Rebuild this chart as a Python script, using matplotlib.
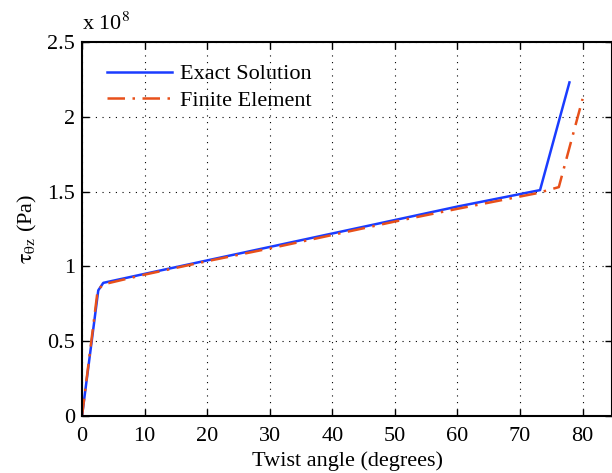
import matplotlib
matplotlib.use("Agg")
import matplotlib.pyplot as plt

plt.rcParams['font.family'] = ['Liberation Serif', 'DejaVu Serif']
plt.rcParams['mathtext.fontset'] = 'stix'

# Data (stress in units of 1e8 Pa)
exact_x = [0, 2.6, 3.4, 10, 20, 30, 40, 50, 60, 73.2, 77.9]
exact_y = [0, 0.84, 0.89, 0.95, 1.04, 1.13, 1.22, 1.31, 1.40, 1.51, 2.23]
fe_x = [0, 2.5, 3.4, 10, 20, 30, 40, 50, 60, 72.8, 76.2, 80.0]
fe_y = [0, 0.84, 0.88, 0.945, 1.035, 1.12, 1.21, 1.30, 1.385, 1.49, 1.53, 2.12]

xticks = [0, 10, 20, 30, 40, 50, 60, 70, 80]
yticks = [0, 0.5, 1, 1.5, 2, 2.5]
ytick_labels = ['0', '0.5', '1', '1.5', '2', '2.5']

fig = plt.figure(figsize=(6.12, 4.73), dpi=100)
ax = fig.add_axes([0.134, 0.1205, 0.866, 0.7907])

ax.plot(exact_x, exact_y, color='#1a3cff', lw=1.8, label='Exact Solution')
ax.plot(fe_x, fe_y, color='#e8501a', lw=1.8, ls=(0, (7, 3, 1, 3)), label='Finite Element')

ax.set_xlim(0, 84.7)
ax.set_ylim(0, 2.5)
ax.set_xticks(xticks)
ax.set_yticks(yticks)
ax.set_yticklabels(ytick_labels)
ax.grid(True, ls=(0, (1, 5)), color='black', lw=0.8)
ax.tick_params(direction='in', top=True, right=True, labelsize=16, length=5, width=1)
ax.tick_params(axis='x', pad=8)
ax.tick_params(axis='y', pad=5)
for s in ax.spines.values():
    s.set_linewidth(1.5)

ax.set_xlabel('Twist angle (degrees)', fontsize=16, labelpad=4)
ax.set_ylabel(r'$\mathrm{\tau}_{\mathrm{\theta z}}$ (Pa)', fontsize=16, labelpad=6)
ax.text(0.0, 1.02, r'x 10$^8$', transform=ax.transAxes, fontsize=16, va='bottom', ha='left')

leg = ax.legend(loc='upper left', fontsize=16, frameon=False, handlelength=2.9,
                bbox_to_anchor=(0.01, 0.995), labelspacing=0.25, handletextpad=0.35)

fig.savefig('out.png', dpi=100)
